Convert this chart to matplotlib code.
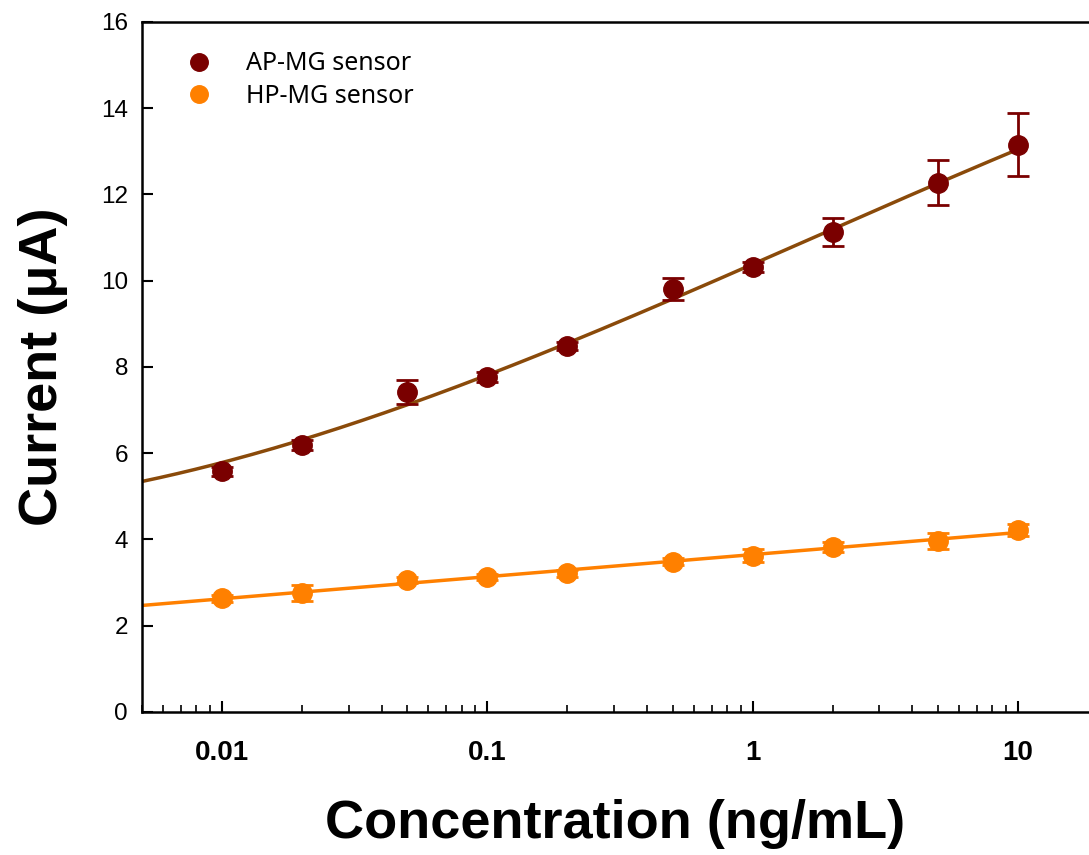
import numpy as np
import matplotlib
matplotlib.use("Agg")
import matplotlib.pyplot as plt
from matplotlib.ticker import LogLocator, FixedLocator, FixedFormatter, NullFormatter

# concentrations (ng/mL)
conc = [0.01, 0.02, 0.05, 0.1, 0.2, 0.5, 1, 2, 5, 10]

# AP-MG sensor current (uA) and error
ap_current = [5.58, 6.19, 7.42, 7.77, 8.49, 9.81, 10.32, 11.13, 12.27, 13.15]
ap_err = [0.10, 0.12, 0.27, 0.12, 0.10, 0.26, 0.12, 0.33, 0.52, 0.73]

# HP-MG sensor current (uA) and error
hp_current = [2.64, 2.76, 3.06, 3.13, 3.22, 3.48, 3.62, 3.83, 3.97, 4.22]
hp_err = [0.08, 0.18, 0.08, 0.08, 0.08, 0.08, 0.15, 0.12, 0.18, 0.15]

# AP fitted curve
ap_fit_conc = [0.005, 0.01, 0.02, 0.05, 0.1, 0.2, 0.5, 1, 2, 5, 10]
ap_fit_current = [5.38, 5.75, 6.26, 7.17, 7.81, 8.55, 9.62, 10.38, 11.15, 12.25, 13.07]

ap_color = "#7a0000"
ap_line = "#8a4a0a"
hp_color = "#ff8000"

fig = plt.figure(figsize=(10.89, 8.55), dpi=100)
ax = fig.add_axes([0.1304, 0.1673, 0.8696, 0.807])

# smooth fit curves (cubic / linear in log10 conc)
x_fit = np.logspace(np.log10(0.005), np.log10(10), 200)
ap_coef = np.polyfit(np.log10(ap_fit_conc), ap_fit_current, 3)
hp_coef = np.polyfit(np.log10(conc), hp_current, 1)
ax.plot(x_fit, np.polyval(ap_coef, np.log10(x_fit)), color=ap_line, lw=2.5, zorder=2)
ax.plot(x_fit, np.polyval(hp_coef, np.log10(x_fit)), color=hp_color, lw=2.5, zorder=2)

ax.errorbar(conc, ap_current, yerr=ap_err, fmt="o", color=ap_color, ms=14,
            capsize=8, elinewidth=2, capthick=2, label="AP-MG sensor", zorder=3)
ax.errorbar(conc, hp_current, yerr=hp_err, fmt="o", color=hp_color, ms=14,
            capsize=8, elinewidth=2, capthick=2, label="HP-MG sensor", zorder=3)

ax.set_xscale("log")
ax.set_xlim(0.005, 18.5)
ax.set_ylim(0, 16)
ax.set_yticks(range(0, 17, 2))

ax.xaxis.set_major_locator(FixedLocator([0.01, 0.1, 1, 10]))
ax.xaxis.set_major_formatter(FixedFormatter(["0.01", "0.1", "1", "10"]))
ax.xaxis.set_minor_locator(LogLocator(base=10, subs=np.arange(2, 10), numticks=20))
ax.xaxis.set_minor_formatter(NullFormatter())

ax.tick_params(axis="both", which="major", direction="in", length=8, width=1.5)
ax.tick_params(axis="x", which="minor", direction="in", length=5, width=1.2)
ax.tick_params(axis="y", labelsize=17.5, pad=10)
ax.tick_params(axis="x", labelsize=20, pad=20)
for lab in ax.get_xticklabels():
    lab.set_fontfamily(["Liberation Sans Narrow", "Liberation Sans"])
    lab.set_fontweight("bold")
for lab in ax.get_yticklabels():
    lab.set_fontfamily("Liberation Sans")

for s in ["left", "bottom", "top"]:
    ax.spines[s].set_linewidth(1.8)
ax.spines["right"].set_visible(False)

ax.set_xlabel("Concentration (ng/mL)", fontsize=39, fontweight="bold",
              fontfamily="Liberation Sans", labelpad=24)
ax.set_ylabel("Current (\u03bcA)", fontsize=39, fontweight="bold",
              fontfamily="Liberation Sans", labelpad=24)

handles, labels = ax.get_legend_handles_labels()
handles = [h[0] for h in handles]
ax.legend(handles, labels, loc="upper left", bbox_to_anchor=(0.01, 0.99),
          frameon=False, prop={"family": "Noto Sans", "size": 18},
          handletextpad=0.9, labelspacing=0.3, markerscale=0.9)

fig.savefig("out.png", dpi=100)
